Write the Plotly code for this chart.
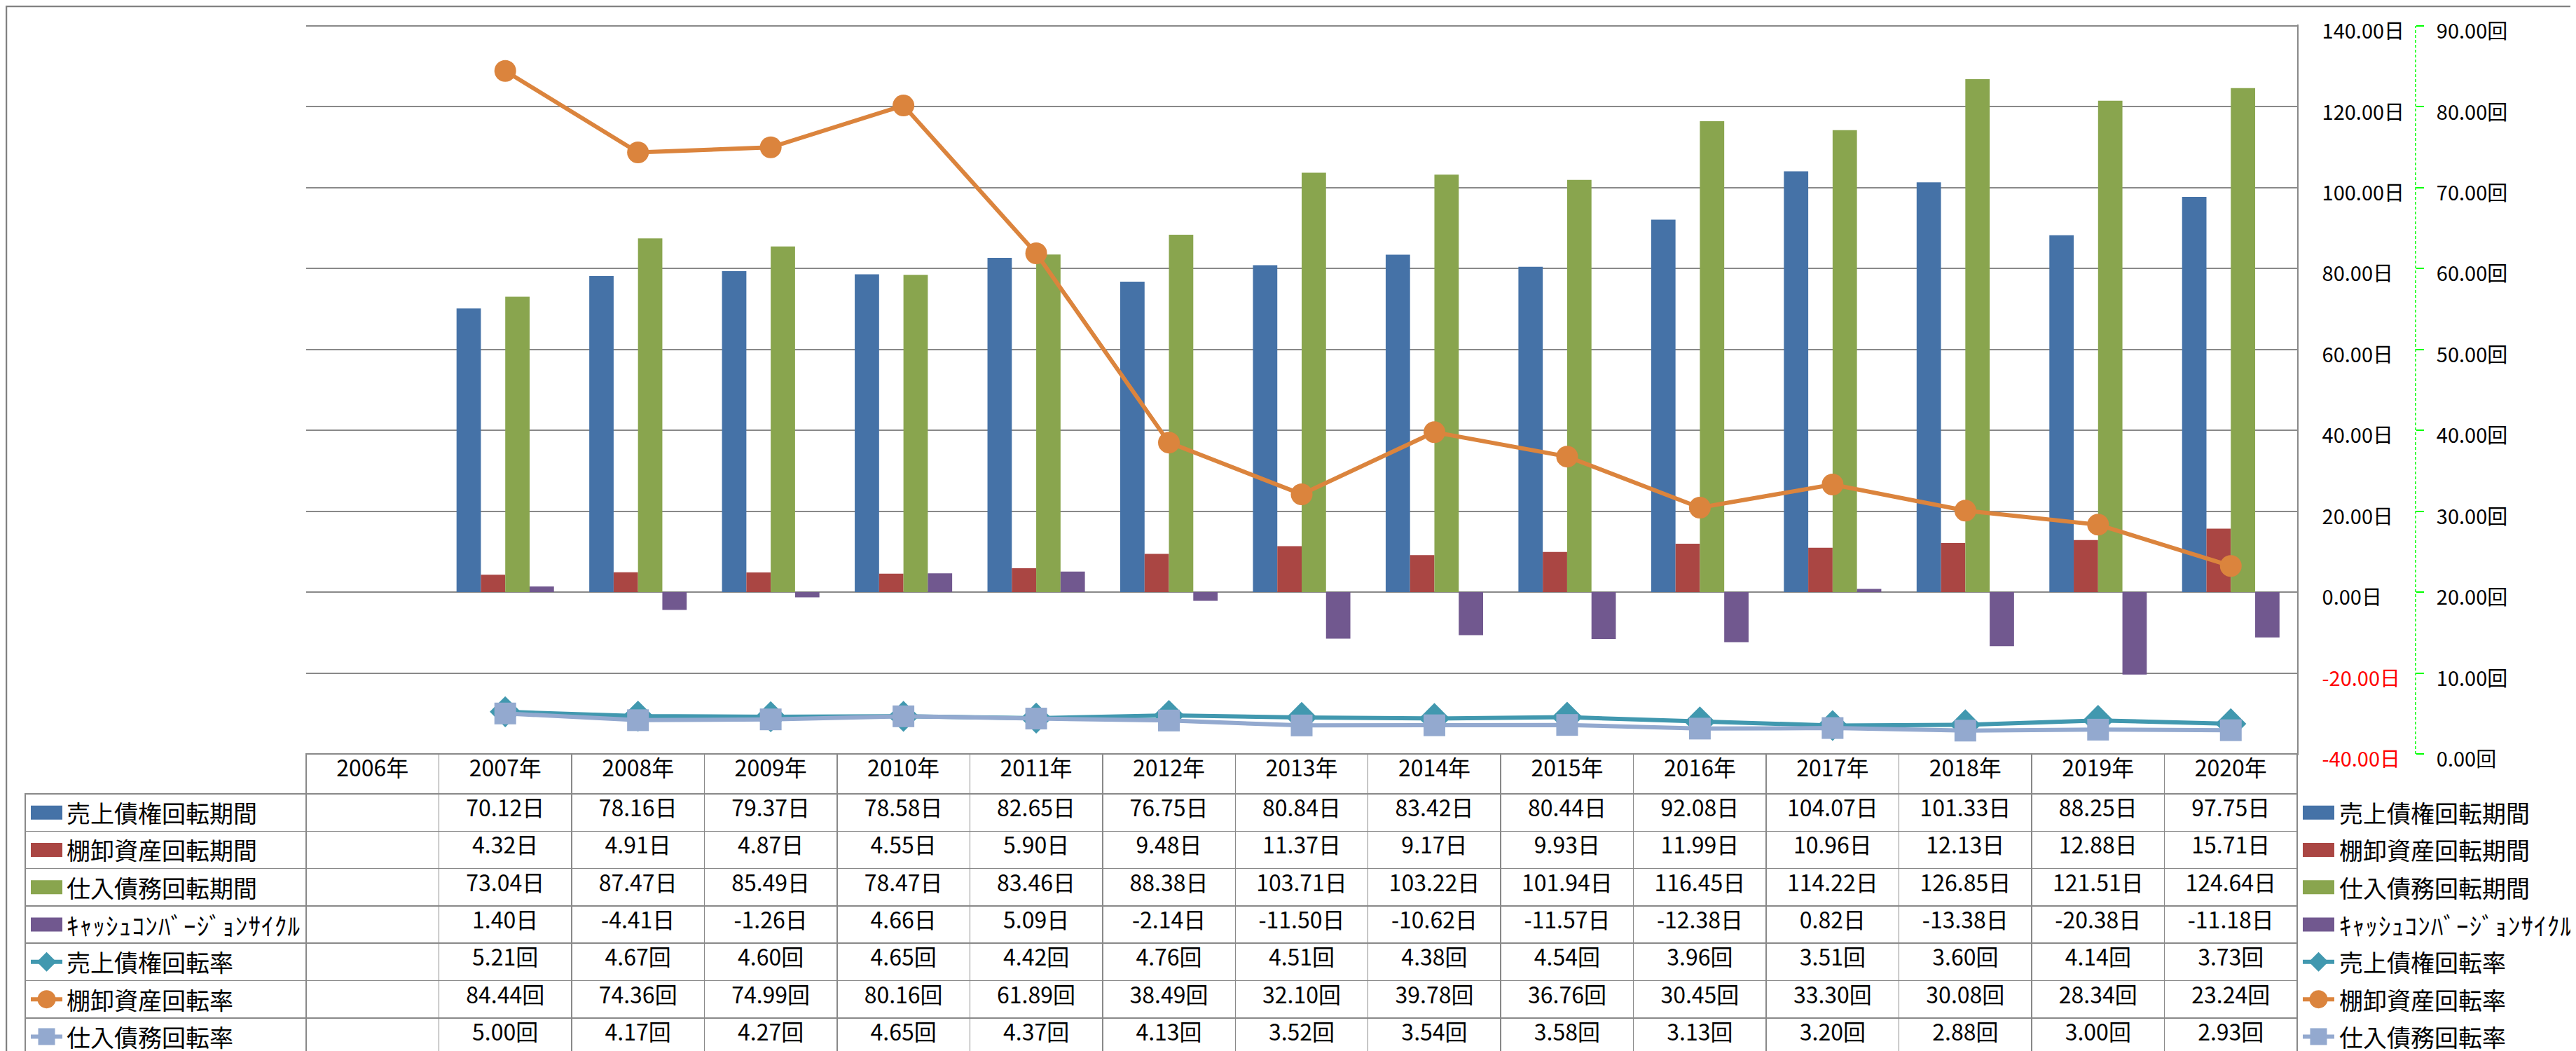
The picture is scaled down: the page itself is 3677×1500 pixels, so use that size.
import plotly.graph_objects as go

# ---------------- data ----------------
years = ["2006年", "2007年", "2008年", "2009年", "2010年", "2011年", "2012年", "2013年",
         "2014年", "2015年", "2016年", "2017年", "2018年", "2019年", "2020年"]

ar_days = [None, 70.12, 78.16, 79.37, 78.58, 82.65, 76.75, 80.84, 83.42, 80.44, 92.08, 104.07, 101.33, 88.25, 97.75]
inv_days = [None, 4.32, 4.91, 4.87, 4.55, 5.90, 9.48, 11.37, 9.17, 9.93, 11.99, 10.96, 12.13, 12.88, 15.71]
ap_days = [None, 73.04, 87.47, 85.49, 78.47, 83.46, 88.38, 103.71, 103.22, 101.94, 116.45, 114.22, 126.85, 121.51, 124.64]
ccc_days = [None, 1.40, -4.41, -1.26, 4.66, 5.09, -2.14, -11.50, -10.62, -11.57, -12.38, 0.82, -13.38, -20.38, -11.18]
ar_turn = [None, 5.21, 4.67, 4.60, 4.65, 4.42, 4.76, 4.51, 4.38, 4.54, 3.96, 3.51, 3.60, 4.14, 3.73]
inv_turn = [None, 84.44, 74.36, 74.99, 80.16, 61.89, 38.49, 32.10, 39.78, 36.76, 30.45, 33.30, 30.08, 28.34, 23.24]
ap_turn = [None, 5.00, 4.17, 4.27, 4.65, 4.37, 4.13, 3.52, 3.54, 3.58, 3.13, 3.20, 2.88, 3.00, 2.93]

bar_names = ["売上債権回転期間", "棚卸資産回転期間", "仕入債務回転期間", "ｷｬｯｼｭｺﾝﾊﾞｰｼﾞｮﾝｻｲｸﾙ"]
line_names = ["売上債権回転率", "棚卸資産回転率", "仕入債務回転率"]

day_ticks = [-40, -20, 0, 20, 40, 60, 80, 100, 120, 140]
turn_ticks = [0, 10, 20, 30, 40, 50, 60, 70, 80, 90]

# ---------------- layout constants (pixels) ----------------
W, H = 3677, 1500
PLOT_L, PLOT_R, PLOT_T, PLOT_B = 429, 3271, 29, 1068
PAD_PX = 2
TABLE_L = 28
HEADER_H = 57
ROW_H = 53.3
Y2_X = 3440
GRID = "#898989"
FONT = "Noto Sans CJK JP"
SW_L = (36, 81)        # swatch span, label column
SW_R = (3279, 3324)    # swatch span, right key
TXT_L = 85
TXT_R = 3329

bar_colors = ["#4572A7", "#AA4643", "#89A54E", "#71588F"]
line_colors = ["#4198AF", "#DB843D", "#93A9CF"]
line_symbols = ["diamond", "circle", "square"]
line_sizes = [34, 31, 31]


def px(x):
    return x / W


def py(y):
    return 1 - y / H


fig = go.Figure()

bar_series = [ar_days, inv_days, ap_days, ccc_days]
line_series = [ar_turn, inv_turn, ap_turn]

for name, vals, col in zip(bar_names, bar_series, bar_colors):
    fig.add_trace(go.Bar(x=years, y=vals, name=name, marker=dict(color=col, line=dict(width=0)),
                         showlegend=False, xaxis="x", yaxis="y"))

for name, vals, col, sym, sz in zip(line_names, line_series, line_colors, line_symbols, line_sizes):
    fig.add_trace(go.Scatter(x=years, y=vals, name=name, mode="lines+markers",
                             line=dict(color=col, width=6),
                             marker=dict(symbol=sym, size=sz, color=col, line=dict(width=0)),
                             showlegend=False, xaxis="x", yaxis="y2"))

# ---------------- data table ----------------
all_series = bar_series + line_series
units = ["日"] * 4 + ["回"] * 3


def fmt(v, u):
    return "" if v is None else f"{v:.2f}{u}"


cell_cols = [[""] * len(all_series)]
for i in range(len(years)):
    cell_cols.append([fmt(s[i], u) for s, u in zip(all_series, units)])

ncol = len(years)
col_w = (PLOT_R - PLOT_L) / ncol
CLEAR = "rgba(0,0,0,0)"
fig.add_trace(go.Table(
    domain=dict(x=[px(TABLE_L), px(PLOT_R)], y=[0, py(PLOT_B)]),
    columnwidth=[PLOT_L - TABLE_L] + [col_w] * ncol,
    header=dict(values=[""] + years, height=HEADER_H, align="center",
                fill=dict(color=[CLEAR] + ["white"] * ncol),
                line=dict(color=[CLEAR] + [GRID] * ncol, width=[0] + [1.5] * ncol),
                font=dict(family=FONT, size=32, color="black")),
    cells=dict(values=cell_cols, height=ROW_H, align="center",
               fill=dict(color=[CLEAR] + ["white"] * ncol),
               line=dict(color=GRID, width=1.5),
               font=dict(family=FONT, size=32, color="black")),
))

# ---------------- keys: label column of the table and right-hand key ----------------
shapes = []
annotations = []
all_names = bar_names + line_names


def label_html(name):
    if name == bar_names[3]:
        return f'<span style="font-size:35px;letter-spacing:1.2px">{name}</span>'
    return name


for i, name in enumerate(all_names):
    yc = PLOT_B + HEADER_H + ROW_H * (i + 0.5)
    for (sx0, sx1), tx in ((SW_L, TXT_L), (SW_R, TXT_R)):
        if i < 4:
            col = bar_colors[i]
            shapes.append(dict(type="rect", xref="paper", yref="paper",
                               x0=px(sx0), x1=px(sx1), y0=py(yc + 10), y1=py(yc - 10),
                               fillcolor=col, line=dict(width=0), layer="above"))
        else:
            j = i - 4
            col = line_colors[j]
            cx = (sx0 + sx1) / 2
            shapes.append(dict(type="line", xref="paper", yref="paper",
                               x0=px(sx0), x1=px(sx1), y0=py(yc), y1=py(yc),
                               line=dict(color=col, width=6), layer="above"))
            sym = line_symbols[j]
            if sym == "diamond":
                r = 14
                path = (f"M{px(cx - r)},{py(yc)} L{px(cx)},{py(yc - r)} "
                        f"L{px(cx + r)},{py(yc)} L{px(cx)},{py(yc + r)} Z")
                shapes.append(dict(type="path", xref="paper", yref="paper", path=path,
                                   fillcolor=col, line=dict(width=0), layer="above"))
            elif sym == "circle":
                r = 13
                shapes.append(dict(type="circle", xref="paper", yref="paper",
                                   x0=px(cx - r), x1=px(cx + r), y0=py(yc + r), y1=py(yc - r),
                                   fillcolor=col, line=dict(width=0), layer="above"))
            else:
                r = 12
                shapes.append(dict(type="rect", xref="paper", yref="paper",
                                   x0=px(cx - r), x1=px(cx + r), y0=py(yc + r), y1=py(yc - r),
                                   fillcolor=col, line=dict(width=0), layer="above"))
        annotations.append(dict(text=label_html(name), xref="paper", yref="paper",
                                x=px(tx), y=py(yc), xanchor="left", yanchor="middle",
                                showarrow=False, font=dict(family=FONT, size=34, color="black")))

day_text = []
for v in day_ticks:
    t = f"{v:.2f}日"
    day_text.append(f'<span style="color:#FF0000">{t}</span>' if v < 0 else t)
turn_text = [f"{v:.2f}回" for v in turn_ticks]

# small padding so that the end gridlines are not clipped at the plot edges
EPS = PAD_PX * (day_ticks[-1] - day_ticks[0]) / (PLOT_B - PLOT_T)

shapes += [
    dict(type="line", xref="paper", yref="y2", x0=px(Y2_X), x1=px(Y2_X),
         y0=turn_ticks[0], y1=turn_ticks[-1],
         line=dict(color="#00FF00", width=1.5, dash="4px,3px")),
    dict(type="rect", xref="paper", yref="paper", x0=px(1), x1=px(W - 1), y0=py(H - 1), y1=py(1),
         line=dict(color="#808080", width=2.5)),
]

TICK_FONT = dict(family=FONT, size=29, color="black")
LABEL_SHIFT = 8   # keeps the top tick labels inside the page

fig.update_layout(
    width=W, height=H, autosize=False,
    margin=dict(l=0, r=0, t=0, b=0, pad=0, autoexpand=False),
    paper_bgcolor="white", plot_bgcolor="white",
    barmode="group", bargap=0.266, bargroupgap=0,
    showlegend=False,
    xaxis=dict(domain=[px(PLOT_L), px(PLOT_R)], type="category", categoryorder="array",
               categoryarray=years, range=[-0.5, len(years) - 0.5], showticklabels=False,
               showgrid=False, zeroline=False, showline=False, ticks="", anchor="y",
               automargin=False),
    yaxis=dict(domain=[py(PLOT_B + PAD_PX), py(PLOT_T - PAD_PX)],
               range=[day_ticks[0] - EPS, day_ticks[-1] + EPS], side="right", anchor="x",
               tickvals=day_ticks, ticktext=day_text, showgrid=True, gridcolor=GRID, gridwidth=1.5,
               showline=True, linecolor=GRID, linewidth=1.5, zeroline=False, ticks="",
               ticklabelstandoff=28, ticklabelshift=LABEL_SHIFT, ticklabeloverflow="allow",
               automargin=False, tickfont=TICK_FONT),
    yaxis2=dict(overlaying="y", anchor="free", position=px(Y2_X), side="right",
                range=[turn_ticks[0] - EPS / 2, turn_ticks[-1] + EPS / 2],
                tickvals=turn_ticks, ticktext=turn_text, showgrid=False, zeroline=False,
                showline=False, ticks="outside", ticklen=11, tickwidth=1.5, tickcolor="#00FF00",
                ticklabelstandoff=12, ticklabelshift=LABEL_SHIFT, ticklabeloverflow="allow",
                automargin=False, tickfont=TICK_FONT),
    shapes=shapes,
    annotations=annotations,
)

fig.write_html("out.html", config={"displayModeBar": False})
